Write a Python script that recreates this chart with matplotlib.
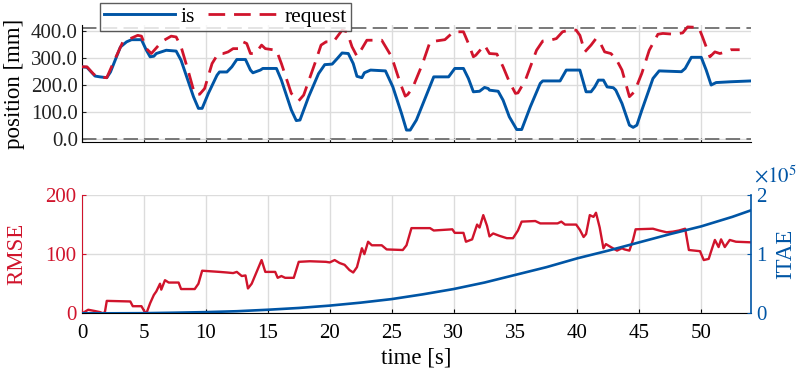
import matplotlib
matplotlib.use("Agg")
import matplotlib.pyplot as plt

# ---- data ----
is_t = [0.0, 0.4, 1.05, 1.45, 2.0, 2.3, 3.1, 3.6, 4.0, 4.8, 5.2, 5.5, 5.8, 6.0, 6.4, 6.8, 7.6,
        8.0, 9.0, 9.4, 9.7, 10.2, 10.9, 11.1, 11.7, 12.1, 12.5, 13.2, 13.6, 13.8, 14.4, 14.6,
        15.7, 16.1, 16.9, 17.3, 17.6, 18.3, 19.1, 19.6, 20.2, 20.6, 21.0, 21.5, 21.9, 22.2,
        22.6, 22.8, 23.3, 24.5, 25.1, 25.8, 26.2, 26.5, 27.0, 28.4, 29.6, 30.1, 30.8, 31.2,
        31.6, 32.1, 32.5, 32.8, 32.9, 33.6, 34.0, 34.5, 35.1, 35.5, 36.2, 37.0, 37.2, 38.6,
        39.1, 40.2, 40.7, 41.1, 41.4, 41.7, 42.1, 42.4, 42.9, 43.1, 43.6, 44.2, 44.5, 44.8,
        45.2, 46.1, 46.6, 48.4, 48.7, 49.2, 50.0, 50.4, 50.8, 51.2, 52.4, 54.0]
is_pos = [267, 265, 233, 230, 227, 248, 340, 359, 367, 367, 328, 304, 306, 316, 322, 328, 325,
          291, 157, 114, 114, 169, 236, 248, 248, 267, 294, 294, 255, 245, 255, 261,
          261, 218, 108, 69, 71, 157, 242, 275, 277, 297, 318, 316, 279, 232,
          227, 245, 255, 252, 193, 95, 34, 34, 71, 230, 230, 261, 261, 224,
          175, 177, 191, 187, 181, 177, 144, 83, 36, 36, 120, 206, 215, 215,
          255, 255, 175, 175, 193, 218, 218, 193, 190, 181, 132, 52, 44, 52,
          107, 224, 252, 249, 261, 302, 302, 255, 200, 209, 212, 215]

req_t = [0.0, 0.4, 0.9, 1.2, 2.0, 2.5, 3.3, 3.9, 4.5, 4.8, 5.2, 5.6, 6.2, 6.4, 7.2, 7.6, 8.0,
         8.6, 9.1, 9.5, 9.9, 10.5, 11.0, 11.4, 11.8, 12.2, 12.6, 13.0, 13.3, 13.6, 14.0, 14.5,
         14.8, 15.7, 16.1, 16.9, 17.5, 17.9, 18.8, 19.3, 19.7, 20.3, 21.0, 21.4, 21.8, 22.2,
         22.6, 23.0, 24.2, 25.0, 25.7, 26.1, 26.3, 26.7, 27.5, 28.1, 29.3, 30.0, 30.8, 31.2,
         31.6, 31.8, 32.5, 32.9, 33.5, 34.0, 34.5, 35.0, 35.2, 35.8, 36.7, 37.2, 37.8, 38.3,
         38.8, 39.5, 39.9, 40.2, 40.6, 41.1, 41.5, 41.8, 42.2, 42.7, 43.1, 43.6, 44.2, 44.6,
         45.2, 45.8, 46.5, 46.9, 47.8, 48.5, 48.9, 49.8, 50.1, 50.7, 51.1, 51.5, 52.0, 52.4, 53.1]
req_pos = [267, 267, 242, 230, 227, 279, 359, 371, 383, 380, 334, 316, 347, 359, 380, 377, 341,
           248, 166, 166, 187, 279, 316, 316, 322, 334, 334, 359, 353, 316, 316, 347,
           334, 328, 279, 169, 142, 163, 279, 347, 359, 359, 402, 396, 341, 306,
           334, 365, 365, 304, 206, 159, 165, 190, 279, 359, 367, 396, 396, 353,
           304, 310, 347, 316, 314, 267, 212, 169, 171, 218, 328, 362, 365, 371,
           396, 404, 402, 383, 322, 347, 371, 359, 322, 316, 298, 255, 157, 175,
           243, 328, 387, 390, 387, 392, 414, 412, 377, 304, 322, 316, 322, 330, 330]

pos_limits = [0, 410]

rmse_t = [0.0, 0.1, 0.5, 1.0, 1.45, 1.7, 1.85, 2.0, 3.9, 4.1, 4.8, 5.1, 5.2, 5.5, 5.8, 6.0,
          6.3, 6.4, 6.7, 7.0, 7.8, 8.0, 9.1, 9.4, 9.7, 11.1, 11.7, 12.2, 12.5, 12.9, 13.2,
          13.4, 13.7, 14.1, 14.5, 14.8, 15.6, 15.8, 16.1, 16.4, 17.1, 17.5, 18.4, 19.7, 20.0,
          20.4, 20.8, 21.2, 21.6, 21.9, 22.2, 22.6, 22.8, 23.1, 23.4, 24.2, 24.6, 25.9, 26.2,
          26.6, 28.1, 28.4, 29.9, 30.1, 30.8, 31.0, 31.5, 31.9, 32.1, 32.4, 32.7, 32.9, 33.2,
          33.7, 34.3, 34.8, 35.2, 35.5, 36.6, 37.0, 38.4, 38.7, 39.0, 39.9, 40.2, 40.5, 40.7,
          41.0, 41.3, 41.5, 41.8, 42.1, 42.3, 42.7, 43.2, 43.6, 43.8, 44.2, 44.5, 44.7, 46.1,
          46.6, 47.2, 47.7, 48.2, 48.7, 49.0, 49.9, 50.2, 50.6, 50.8, 51.1, 51.4, 51.6, 51.9,
          52.3, 52.8, 54.0]
rmse = [0, 1, 6, 4, 2, 0, 2, 21, 20, 12, 12, 1, 0, 17, 31, 37,
        50, 40, 56, 52, 52, 41, 41, 50, 72, 70, 69, 68, 70, 63, 64,
        42, 50, 70, 90, 70, 70, 60, 63, 60, 60, 87, 88, 87, 86,
        90, 85, 82, 73, 69, 78, 110, 100, 121, 115, 115, 108, 107, 115,
        144, 144, 140, 142, 136, 136, 121, 125, 150, 145, 166, 148, 130, 135,
        131, 127, 127, 140, 155, 156, 152, 152, 155, 150, 150, 141, 129, 134,
        166, 163, 170, 145, 110, 117, 112, 106, 110, 108, 106, 125, 142, 143,
        140, 137, 138, 140, 143, 107, 105, 90, 92, 105, 124, 112, 125, 112,
        124, 121, 120]

itae_t = [0, 2.5, 5, 7.5, 10, 12.5, 15, 17.5, 20, 22.5, 25, 27.5, 30, 32.5, 35, 37.5,
          40, 42.5, 45, 47.5, 50, 52.5, 54]
itae_1e5 = [0, 0.0, 0.002, 0.01, 0.02, 0.035, 0.06, 0.09, 0.13, 0.18, 0.24, 0.32, 0.41,
            0.52, 0.65, 0.78, 0.93, 1.06, 1.2, 1.34, 1.47, 1.63, 1.74]

x_ticks = list(range(0, 55, 5))

# ---- style ----
BLUE = "#0055a5"
RED = "#d0142c"
GRID = "#dcdcdc"
plt.rcParams["font.family"] = ["Liberation Serif", "DejaVu Serif"]
plt.rcParams["mathtext.fontset"] = "stix"
FS = 15

fig = plt.figure(figsize=(8.0, 3.74), dpi=100)

# top panel
ax1 = fig.add_axes([0.1025, 0.6203, 0.836, 0.3128])
for v in pos_limits:
    ax1.axhline(v, color="#6e6e6e", lw=1.3, dashes=(8, 3.5), zorder=2)
ax1.plot(is_t, is_pos, color=BLUE, lw=2.1, label="is", zorder=3)
ax1.plot(req_t, req_pos, color=RED, lw=2.0, dashes=(6, 3.2), label="request", zorder=3)
ax1.set_xlim(0, 54)
ax1.set_ylim(-10, 421)
ax1.set_xticks(x_ticks)
ax1.set_xticklabels([])
ax1.set_yticks([0, 100, 200, 300, 400])
ax1.set_yticklabels([f"{v:.1f}" for v in [0, 100, 200, 300, 400]])
ax1.set_ylabel("position [mm]", fontsize=16.5, labelpad=4)
ax1.grid(True, color=GRID, lw=1.0, zorder=0)
ax1.set_axisbelow(True)
for s in ["top", "right"]:
    ax1.spines[s].set_visible(False)
ax1.tick_params(direction="in", labelsize=FS, length=3, pad=3, colors="#222222")

leg = fig.legend(loc="upper left", bbox_to_anchor=(0.125, 0.993), ncol=2, fontsize=15.5,
                 handlelength=3.3, handletextpad=0.25, columnspacing=0.6,
                 frameon=True, fancybox=False, edgecolor="#333333",
                 borderpad=0.2, borderaxespad=0.0)
leg.get_frame().set_linewidth(1.0)

# bottom panel
ax2 = fig.add_axes([0.1025, 0.1623, 0.836, 0.3163])
ax2.plot(rmse_t, rmse, color=RED, lw=1.7, zorder=3)
ax2.set_xlim(0, 54)
ax2.set_ylim(0, 200)
ax2.set_xticks(x_ticks)
ax2.set_yticks([0, 100, 200])
ax2.set_xlabel("time [s]", fontsize=16.5, labelpad=3)
ax2.set_ylabel("RMSE", fontsize=16.5, color=RED, labelpad=13)
ax2.grid(True, color=GRID, lw=1.0, zorder=0)
ax2.set_axisbelow(True)
ax2.spines["top"].set_visible(False)
ax2.spines["right"].set_visible(False)
ax2.spines["left"].set_color(RED)
ax2.tick_params(direction="in", labelsize=FS, length=3, pad=4)
ax2.tick_params(axis="x", pad=8)
ax2.tick_params(axis="y", colors=RED)

ax3 = ax2.twinx()
ax3.plot(itae_t, itae_1e5, color=BLUE, lw=1.9, zorder=4)
ax3.set_ylim(0, 2)
ax3.set_yticks([0, 1, 2])
ax3.set_ylabel("ITAE", fontsize=16.5, color=BLUE, labelpad=6)
for s in ["top", "left", "bottom"]:
    ax3.spines[s].set_visible(False)
ax3.spines["right"].set_color(BLUE)
ax3.spines["right"].set_linewidth(1.2)
ax3.tick_params(direction="in", labelsize=FS, length=3, pad=4, colors=BLUE)
ax3.text(1.005, 1.06, r"$\times 10^5$", transform=ax3.transAxes, color=BLUE,
         fontsize=15, ha="left", va="bottom")

fig.savefig("out.png", dpi=100)
